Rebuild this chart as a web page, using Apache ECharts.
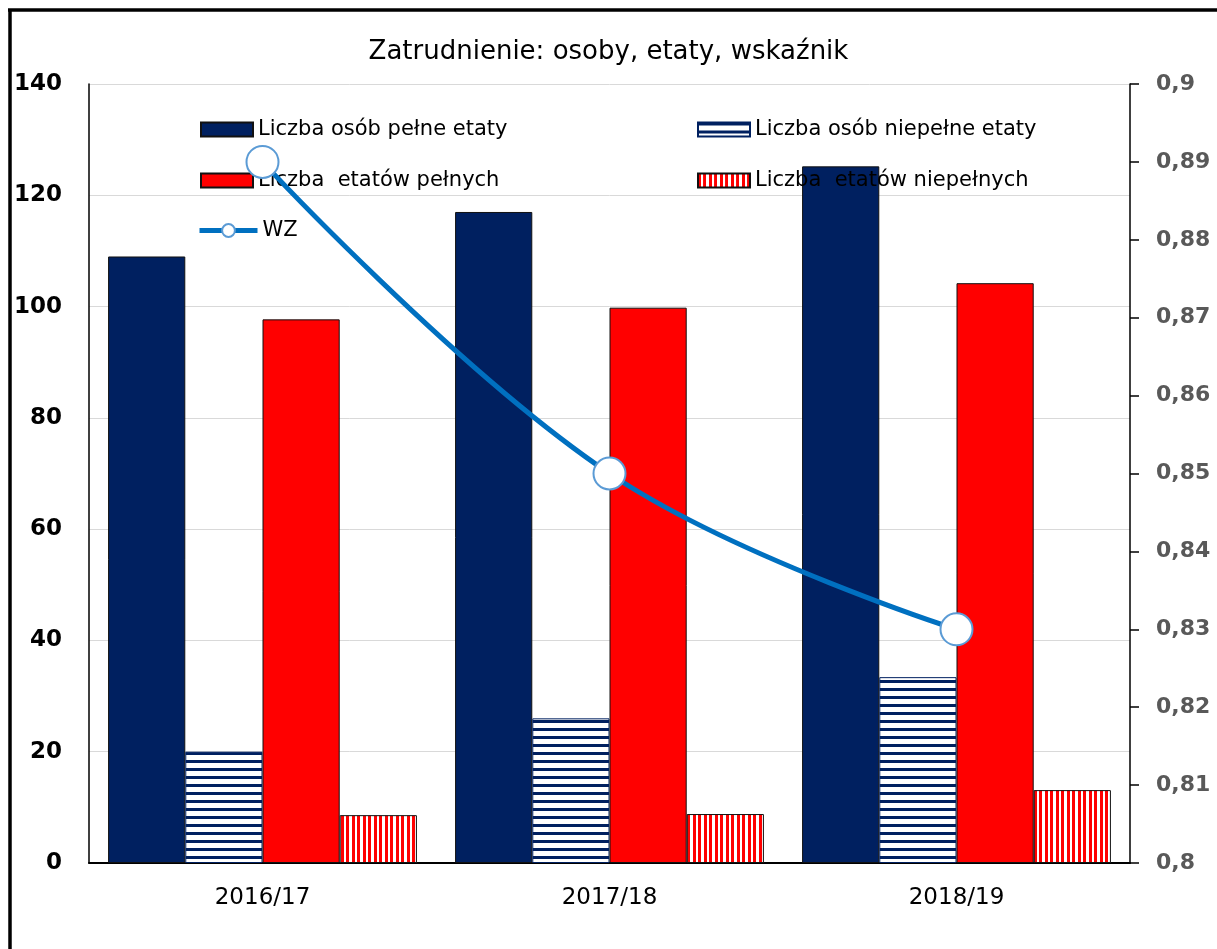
<!DOCTYPE html>
<html>
<head>
<meta charset="utf-8">
<script src="https://cdn.jsdelivr.net/npm/echarts@6/dist/echarts.min.js"></script>
<style>
html,body{margin:0;padding:0;background:#fff;}
#chart{width:1217px;height:949px;}
</style>
</head>
<body>
<div id="chart"></div>
<script>
const categories = ['2016/17', '2017/18', '2018/19'];
const seriesNames = ['Liczba osób pełne etaty', 'Liczba osób niepełne etaty', 'Liczba  etatów pełnych', 'Liczba  etatów niepełnych', 'WZ'];
const osobyPelne = [109, 117, 125.2];
const osobyNiepelne = [20, 26, 33.4];
const etatyPelne = [97.7, 99.8, 104.2];
const etatyNiepelne = [8.6, 8.8, 13.1];
const wz = [0.89, 0.85, 0.83];
const leftTicks = [0, 140, 20];
const rightTicks = [0.8, 0.9, 0.01];

const NAVY = '#002060', RED = '#FF0000', BLUE = '#0070C0';
const FONT = 'DejaVu Sans';

function hStripe() {
  const c = document.createElement('canvas');
  c.width = 8; c.height = 8;
  const g = c.getContext('2d');
  g.fillStyle = '#fff'; g.fillRect(0, 0, 8, 8);
  g.fillStyle = NAVY; g.fillRect(0, 0, 8, 3);
  return c;
}
function vStripe() {
  const c = document.createElement('canvas');
  c.width = 11; c.height = 4;
  const g = c.getContext('2d');
  g.fillStyle = '#fff'; g.fillRect(0, 0, 11, 4);
  g.fillStyle = RED; g.fillRect(0, 0, 3, 4); g.fillRect(5, 0, 3, 4);
  return c;
}
const hPat = { image: hStripe(), repeat: 'repeat' };
const vPat = { image: vStripe(), repeat: 'repeat' };

const chart = echarts.init(document.getElementById('chart'), null, { renderer: 'canvas' });

function legend(name, left, top, extra) {
  return Object.assign({
    data: [name], left: left, top: top, itemWidth: 52, itemHeight: 14,
    selectedMode: false,
    textStyle: { fontFamily: FONT, fontSize: 21, color: '#000' }
  }, extra || {});
}

const barBorder = { borderColor: '#111', borderWidth: 1 };

chart.setOption({
  animation: false,
  backgroundColor: '#fff',
  title: {
    text: 'Zatrudnienie: osoby, etaty, wskaźnik',
    left: 'center', top: 34,
    textStyle: { fontFamily: FONT, fontSize: 26, fontWeight: 'normal', color: '#000' }
  },
  legend: [
    legend(seriesNames[0], 195, 114, { icon: 'rect' }),
    legend(seriesNames[1], 692, 114, { icon: 'rect' }),
    legend(seriesNames[2], 195, 165, { icon: 'rect' }),
    legend(seriesNames[3], 692, 165, { icon: 'rect' }),
    legend(seriesNames[4], 192, 215, {
      itemWidth: 58, itemHeight: 16,
      lineStyle: { width: 5, color: BLUE }
    })
  ],
  grid: { left: 89, right: 87, top: 84, bottom: 86 },
  xAxis: {
    type: 'category', data: categories,
    axisLine: { lineStyle: { color: '#000', width: 2 } },
    axisTick: { show: false },
    axisLabel: { fontFamily: FONT, fontSize: 23, color: '#000', margin: 24 }
  },
  yAxis: [
    {
      type: 'value', min: leftTicks[0], max: leftTicks[1], interval: leftTicks[2],
      axisLine: { show: true, lineStyle: { color: '#000', width: 1.5 } },
      axisTick: { show: false },
      splitLine: { lineStyle: { color: '#d9d9d9', width: 1 } },
      axisLabel: { fontFamily: FONT, fontSize: 23, fontWeight: 'bold', color: '#000', margin: 27 }
    },
    {
      type: 'value', min: rightTicks[0], max: rightTicks[1], interval: rightTicks[2],
      position: 'right',
      axisLine: { show: true, lineStyle: { color: '#000', width: 1.5 } },
      axisTick: { show: true, inside: false, length: 9, lineStyle: { color: '#000', width: 1.5 } },
      splitLine: { show: false },
      axisLabel: {
        fontFamily: FONT, fontSize: 22, fontWeight: 'bold', color: '#595959', margin: 26,
        formatter: v => String(Math.round(v * 100) / 100).replace('.', ',')
      }
    }
  ],
  series: [
    { name: seriesNames[0], type: 'bar', data: osobyPelne, barGap: '0%', barCategoryGap: '11%',
      itemStyle: Object.assign({ color: NAVY }, barBorder) },
    { name: seriesNames[1], type: 'bar', data: osobyNiepelne, barGap: '0%', barCategoryGap: '11%',
      itemStyle: Object.assign({ color: hPat }, barBorder, { borderColor: NAVY }) },
    { name: seriesNames[2], type: 'bar', data: etatyPelne, barGap: '0%', barCategoryGap: '11%',
      itemStyle: Object.assign({ color: RED }, barBorder) },
    { name: seriesNames[3], type: 'bar', data: etatyNiepelne, barGap: '0%', barCategoryGap: '11%',
      itemStyle: Object.assign({ color: vPat }, barBorder) },
    { name: seriesNames[4], type: 'line', yAxisIndex: 1, data: wz, smooth: 0.4, z: 10,
      symbol: 'circle', symbolSize: 32, showAllSymbol: true,
      lineStyle: { color: BLUE, width: 5 },
      itemStyle: { color: '#fff', borderColor: '#5B9BD5', borderWidth: 2 } }
  ],
  graphic: [
    { type: 'line', shape: { x1: 10, y1: 10, x2: 10, y2: 949 }, style: { stroke: '#000', lineWidth: 3.5 }, z: 100 },
    { type: 'line', shape: { x1: 8, y1: 10, x2: 1217, y2: 10 }, style: { stroke: '#000', lineWidth: 3.5 }, z: 100 }
  ]
});
</script>
</body>
</html>
